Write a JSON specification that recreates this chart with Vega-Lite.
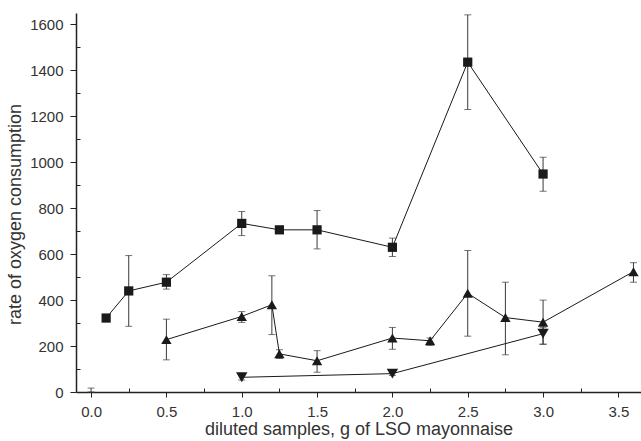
{
  "$schema": "https://vega.github.io/schema/vega-lite/v6.json",
  "width": 565,
  "height": 379,
  "autosize": "none",
  "padding": {"left": 76, "top": 13, "right": 0, "bottom": 49},
  "background": "white",
  "config": {
    "view": {"stroke": null},
    "font": "Liberation Sans"
  },
  "data": {
    "values": [
      {"series": "z", "x": 0.0, "y": 5, "lo": 0, "hi": 17},
      {"series": "sq", "x": 0.1, "y": 322, "lo": 322, "hi": 322},
      {"series": "sq", "x": 0.25, "y": 440, "lo": 286, "hi": 594},
      {"series": "sq", "x": 0.5, "y": 478, "lo": 448, "hi": 511},
      {"series": "sq", "x": 1.0, "y": 734, "lo": 681, "hi": 786},
      {"series": "sq", "x": 1.25, "y": 706, "lo": 706, "hi": 706},
      {"series": "sq", "x": 1.5, "y": 706, "lo": 623, "hi": 790},
      {"series": "sq", "x": 2.0, "y": 630, "lo": 590, "hi": 670},
      {"series": "sq", "x": 2.5, "y": 1436, "lo": 1230, "hi": 1642},
      {"series": "sq", "x": 3.0, "y": 949, "lo": 874, "hi": 1022},
      {"series": "up", "x": 0.5, "y": 228, "lo": 140, "hi": 317},
      {"series": "up", "x": 1.0, "y": 329, "lo": 303, "hi": 350},
      {"series": "up", "x": 1.2, "y": 380, "lo": 250, "hi": 506},
      {"series": "up", "x": 1.25, "y": 166, "lo": 146, "hi": 184},
      {"series": "up", "x": 1.5, "y": 136, "lo": 86, "hi": 180},
      {"series": "up", "x": 2.0, "y": 235, "lo": 186, "hi": 281},
      {"series": "up", "x": 2.25, "y": 223, "lo": 203, "hi": 235},
      {"series": "up", "x": 2.5, "y": 430, "lo": 243, "hi": 616},
      {"series": "up", "x": 2.75, "y": 324, "lo": 162, "hi": 478},
      {"series": "up", "x": 3.0, "y": 304, "lo": 208, "hi": 400},
      {"series": "up", "x": 3.6, "y": 524, "lo": 478, "hi": 563},
      {"series": "down", "x": 1.0, "y": 64, "lo": 52, "hi": 76},
      {"series": "down", "x": 2.0, "y": 80, "lo": 72, "hi": 90},
      {"series": "down", "x": 3.0, "y": 254, "lo": 208, "hi": 280}
    ]
  },
  "layer": [
    {
      "mark": {"type": "rule", "color": "#3a3a3a", "strokeWidth": 1},
      "encoding": {
        "x": {"field": "x", "type": "quantitative"},
        "y": {"field": "lo", "type": "quantitative"},
        "y2": {"field": "hi"}
      }
    },
    {
      "mark": {"type": "tick", "orient": "horizontal", "color": "#3a3a3a", "size": 7, "thickness": 1},
      "encoding": {
        "x": {"field": "x", "type": "quantitative"},
        "y": {"field": "lo", "type": "quantitative"}
      }
    },
    {
      "mark": {"type": "tick", "orient": "horizontal", "color": "#3a3a3a", "size": 7, "thickness": 1},
      "encoding": {
        "x": {"field": "x", "type": "quantitative"},
        "y": {"field": "hi", "type": "quantitative"}
      }
    },
    {
      "transform": [{"filter": "datum.series != 'z'"}],
      "mark": {"type": "line", "color": "#1a1a1a", "strokeWidth": 1},
      "encoding": {
        "x": {"field": "x", "type": "quantitative"},
        "y": {"field": "y", "type": "quantitative"},
        "detail": {"field": "series"}
      }
    },
    {
      "transform": [{"filter": "datum.series != 'z'"}],
      "mark": {"type": "point", "filled": true, "opacity": 1, "color": "#1a1a1a", "strokeWidth": 0},
      "encoding": {
        "x": {"field": "x", "type": "quantitative"},
        "y": {"field": "y", "type": "quantitative"},
        "shape": {
          "field": "series",
          "type": "nominal",
          "scale": {"domain": ["sq", "up", "down"], "range": ["square", "triangle-up", "triangle-down"]},
          "legend": null
        },
        "size": {
          "field": "series",
          "type": "nominal",
          "scale": {"domain": ["sq", "up", "down"], "range": [85, 130, 130]},
          "legend": null
        }
      }
    }
  ],
  "encoding": {
    "x": {
      "field": "x",
      "type": "quantitative",
      "scale": {"domain": [-0.1, 3.65], "nice": false, "zero": false},
      "axis": {
        "title": "diluted samples, g of LSO mayonnaise",
        "values": [0, 0.25, 0.5, 0.75, 1, 1.25, 1.5, 1.75, 2, 2.25, 2.5, 2.75, 3, 3.25, 3.5],
        "labelExpr": "round(datum.value*4) % 2 == 0 ? format(datum.value, '.1f') : ''",
        "tickSize": {"condition": {"test": "round(datum.value*4) % 2 == 0", "value": 5}, "value": -4},
        "grid": false,
        "domainColor": "#222",
        "domainWidth": 1.5,
        "tickColor": "#222",
        "tickWidth": 1,
        "labelColor": "#333",
        "labelFontSize": 15,
        "labelPadding": 7,
        "labelFlush": false,
        "titleColor": "#333",
        "titleFontSize": 18,
        "titleFontWeight": "normal",
        "titleBaseline": "alphabetic",
        "titleY": 42
      }
    },
    "y": {
      "field": "y",
      "type": "quantitative",
      "scale": {"domain": [0, 1650], "nice": false},
      "axis": {
        "title": "rate of oxygen consumption",
        "values": [0, 100, 200, 300, 400, 500, 600, 700, 800, 900, 1000, 1100, 1200, 1300, 1400, 1500, 1600],
        "labelExpr": "datum.value % 200 == 0 ? format(datum.value, 'd') : ''",
        "tickSize": {"condition": {"test": "datum.value % 200 == 0", "value": 6}, "value": -4},
        "grid": false,
        "domainColor": "#222",
        "domainWidth": 1.5,
        "tickColor": "#222",
        "tickWidth": 1,
        "labelColor": "#333",
        "labelFontSize": 15,
        "labelPadding": 7,
        "labelFlush": false,
        "titleColor": "#333",
        "titleFontSize": 18,
        "titleFontWeight": "normal",
        "titleX": -61,
        "titleY": 201,
        "titleBaseline": "middle",
        "titleAngle": -90
      }
    }
  }
}
